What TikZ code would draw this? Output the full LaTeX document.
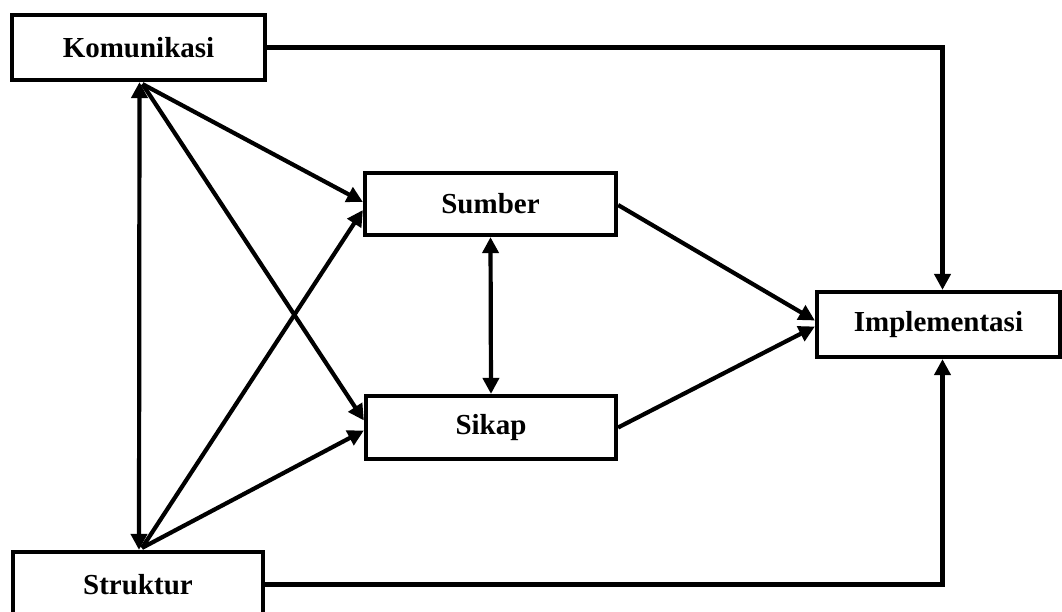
\documentclass[tikz,border=0pt]{standalone}
\usepackage{fontspec}
\setmainfont{Liberation Serif}
\usetikzlibrary{arrows.meta,calc}
\begin{document}
\begin{tikzpicture}[x=1pt,y=-1pt,
  box/.style={draw=black,line width=4.2pt,fill=white,inner sep=0pt,
    font=\fontsize{29}{34}\selectfont\bfseries},
  link/.style={line width=4.2pt,-{Triangle[length=16pt,width=16pt]}},
  twoway/.style={line width=4.2pt,{Triangle[length=16pt,width=16pt]}-{Triangle[length=16pt,width=16pt]}}]
\useasboundingbox (0,0) rectangle (1062,612);

% boxes
\node[box,minimum width=253pt,minimum height=65pt] (kom) at (138.5,47.5) {Komunikasi};
\node[box,minimum width=250pt,minimum height=65pt] (str) at (138,584.5) {Struktur};
\node[box,minimum width=251pt,minimum height=62pt] (sum) at (490.5,204) {Sumber};
\node[box,minimum width=250pt,minimum height=63pt] (sik) at (491,427.5) {Sikap};
\node[box,minimum width=243pt,minimum height=65pt] (imp) at (938.5,324.5) {Implementasi};

% junction points at the left boxes
\coordinate (kj) at ($(kom.south)+(4,2)$);
\coordinate (sj) at ($(str.north)+(4,-2)$);

% Komunikasi <-> Struktur
\draw[twoway] ($(kom.south)+(1,0)$) -- ($(str.north)+(1,0)$);

% diagonals into Sumber and Sikap
\draw[link] (kj) -- ($(sum.west)+(0,-2)$);
\draw[link] (kj) -- ($(sik.west)+(0,-7)$);
\draw[link] (sj) -- ($(sum.west)+(0,6)$);
\draw[link] (sj) -- ($(sik.west)+(0,3)$);

% Sumber <-> Sikap
\draw[twoway] (sum.south) -- (sik.north);

% into Implementasi
\draw[link] ($(sum.east)+(0,1)$) -- ($(imp.west)+(0,-4)$);
\draw[link] ($(sik.east)+(0,0)$) -- ($(imp.west)+(0,2)$);
\draw[link] (kom.east) -| ($(imp.north)+(4,0)$);
\draw[link] (str.east) -| ($(imp.south)+(4,0)$);
\end{tikzpicture}
\end{document}
